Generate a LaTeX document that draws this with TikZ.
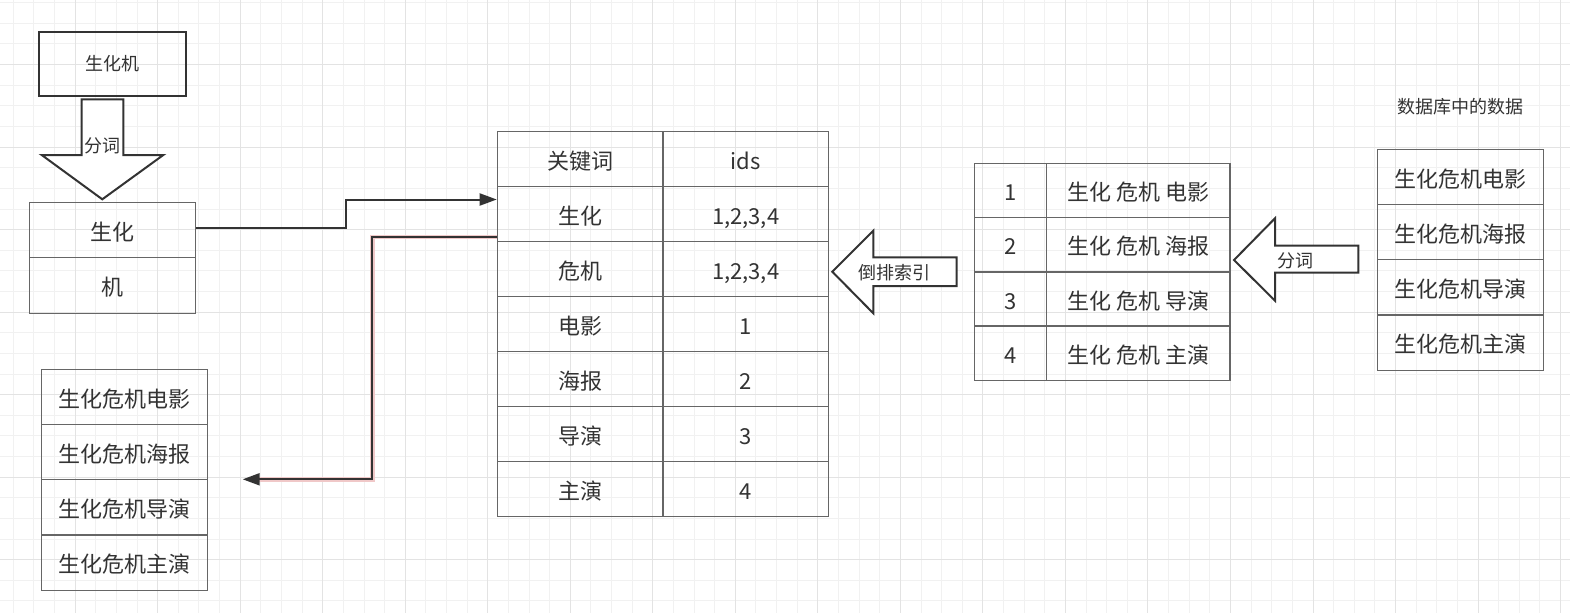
\documentclass[tikz,border=0pt]{standalone}
\usepackage{fontspec}
\setmainfont{Noto Sans CJK SC}
\usetikzlibrary{arrows.meta}
\definecolor{ink}{HTML}{333333}
\definecolor{cellline}{HTML}{666666}
\definecolor{gridminor}{HTML}{F1F1F1}
\definecolor{gridmajor}{HTML}{E3E3E3}
\definecolor{glow}{HTML}{F0C8C8}
\begin{document}
\begin{tikzpicture}[x=1pt,y=-1pt,
  cell/.style 2 args={draw=cellline,line width=1.2pt,inner sep=0pt,text=ink,
    font=\fontsize{22}{26}\selectfont,minimum width=#1pt,minimum height=#2pt,
    text height=21pt,text depth=0.8pt},
  thickbox/.style 2 args={draw=ink,line width=2pt,inner sep=0pt,text=ink,
    font=\fontsize{18}{22}\selectfont,minimum width=#1pt,minimum height=#2pt},
  blockarrow/.style={draw=ink,line width=2pt,fill=white,line join=miter},
  lbl/.style={text=ink,font=\fontsize{18}{22}\selectfont,inner sep=0pt},
  conn/.style={draw=ink,line width=2pt,-{Triangle[length=17pt,width=12pt]}},
  glowline/.style={draw=glow,line width=4.5pt}]
\useasboundingbox (0,0) rectangle (1570,613);
\fill[white] (0,0) rectangle (1570,613);
% grid
\foreach \i in {0,...,75} {\pgfmathsetmacro\gx{13.3+\i*20.63}
  \draw[gridminor,line width=1pt] (\gx,0) -- (\gx,613);}
\foreach \i in {0,...,29} {\pgfmathsetmacro\gy{2.7+\i*20.63}
  \draw[gridminor,line width=1pt] (0,\gy) -- (1570,\gy);}
\foreach \i in {3,7,...,75} {\pgfmathsetmacro\gx{13.3+\i*20.63}
  \draw[gridmajor,line width=1pt] (\gx,0) -- (\gx,613);}
\foreach \i in {3,7,...,27} {\pgfmathsetmacro\gy{2.7+\i*20.63}
  \draw[gridmajor,line width=1pt] (0,\gy) -- (1570,\gy);}

% top-left: source word
\node[thickbox={146.7}{63.4}] (src) at (112.35,64) {生化机};
\draw[blockarrow] (81.7,99.3) -- (123.3,99.3) -- (123.3,155) -- (163.3,155)
  -- (102.3,199.3) -- (41.7,155) -- (81.7,155) -- cycle;
\node[lbl] (cutA) at (102.3,146) {分词};
\node[cell={166}{55.4}] (w1) at (112.7,230) {生化};
\node[cell={166}{55.6}] (w2) at (112.7,285.5) {机};

% bottom-left result list
\node[cell={166}{55.2}] (r1) at (124.7,396.9) {生化危机电影};
\node[cell={166}{55.2}] (r2) at (124.7,452.1) {生化危机海报};
\node[cell={166}{55.2}] (r3) at (124.7,507.3) {生化危机导演};
\node[cell={166}{55.2}] (r4) at (124.7,562.5) {生化危机主演};

% main inverted index table
\node[cell={165.7}{55}] (h1) at (580.15,159.2) {关键词};
\node[cell={165.3}{55}] (h2) at (745.65,159.2) {ids};
\node[cell={165.7}{55}] (k1) at (580.15,214.2) {生化};
\node[cell={165.3}{55}] (v1) at (745.65,214.2) {1,2,3,4};
\node[cell={165.7}{55}] (k2) at (580.15,269.2) {危机};
\node[cell={165.3}{55}] (v2) at (745.65,269.2) {1,2,3,4};
\node[cell={165.7}{55}] (k3) at (580.15,324.2) {电影};
\node[cell={165.3}{55}] (v3) at (745.65,324.2) {1};
\node[cell={165.7}{55}] (k4) at (580.15,379.2) {海报};
\node[cell={165.3}{55}] (v4) at (745.65,379.2) {2};
\node[cell={165.7}{55}] (k5) at (580.15,434.2) {导演};
\node[cell={165.3}{55}] (v5) at (745.65,434.2) {3};
\node[cell={165.7}{55}] (k6) at (580.15,489.2) {主演};
\node[cell={165.3}{55}] (v6) at (745.65,489.2) {4};

% arrow 倒排索引
\draw[blockarrow] (832.3,271.7) -- (873.3,230.7) -- (873.3,257.3) -- (956.7,257.3)
  -- (956.7,286) -- (873.3,286) -- (873.3,313.3) -- cycle;
\node[lbl] (invlbl) at (894.7,273) {倒排索引};

% middle tokenized table
\node[cell={72.4}{54.1}] (n1) at (1010.5,190.75) {1};
\node[cell={183.3}{54.1}] (t1) at (1138.35,190.75) {生化 危机 电影};
\node[cell={72.4}{54.1}] (n2) at (1010.5,244.85) {2};
\node[cell={183.3}{54.1}] (t2) at (1138.35,244.85) {生化 危机 海报};
\node[cell={72.4}{54.1}] (n3) at (1010.5,298.95) {3};
\node[cell={183.3}{54.1}] (t3) at (1138.35,298.95) {生化 危机 导演};
\node[cell={72.4}{54.1}] (n4) at (1010.5,353.05) {4};
\node[cell={183.3}{54.1}] (t4) at (1138.35,353.05) {生化 危机 主演};

% arrow 分词 (right)
\draw[blockarrow] (1234,260) -- (1275,218.3) -- (1275,245.7) -- (1358.3,245.7)
  -- (1358.3,272.7) -- (1275,272.7) -- (1275,300.7) -- cycle;
\node[lbl] (cutB) at (1295.8,260.8) {分词};

% database data
\node[lbl] (dbtitle) at (1460,106.7) {数据库中的数据};
\node[cell={166.4}{55.2}] (d1) at (1460.5,176.9) {生化危机电影};
\node[cell={166.4}{55.2}] (d2) at (1460.5,232.1) {生化危机海报};
\node[cell={166.4}{55.2}] (d3) at (1460.5,287.3) {生化危机导演};
\node[cell={166.4}{55.2}] (d4) at (1460.5,342.5) {生化危机主演};

% connectors
\coordinate (e2) at (242.7,479.3);
\draw[conn] ([yshift=1.7pt]w1.east) -- ++(150,0) |- ([yshift=14.7pt]k1.west);
\draw[glowline] ([yshift=-22.7pt]k1.west) -- ++(-124.4,0) |- ([xshift=8pt]e2);
\draw[conn] ([yshift=-22.7pt]k1.west) -- ++(-124.4,0) |- (e2);
\end{tikzpicture}
\end{document}
